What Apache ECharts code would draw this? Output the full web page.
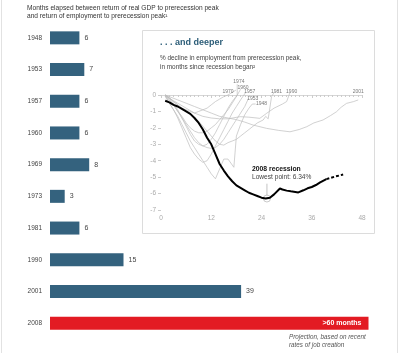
<!DOCTYPE html>
<html>
<head>
<meta charset="utf-8">
<script src="https://cdn.jsdelivr.net/npm/echarts@6/dist/echarts.min.js"></script>
<style>
  html, body { margin: 0; padding: 0; background: #fff; }
  #main { width: 400px; height: 353px; }
</style>
</head>
<body>
<div id="main"></div>
<script>
// 左侧柱状图数据
var years = ['1948', '1953', '1957', '1960', '1969', '1973', '1981', '1990', '2001', '2008'];
var months = [6, 7, 6, 6, 8, 3, 6, 15, 39, 65];
var valueLabels = ['6', '7', '6', '6', '8', '3', '6', '15', '39', '>60 months'];

// 右上小图：2008 衰退（月份, %）
var rec2008 = [[1,-0.35],[2,-0.45],[3,-0.6],[4,-0.7],[5,-0.85],[6,-1.0],[7,-1.15],[8,-1.4],[9,-1.7],[10,-2.1],
  [11,-2.6],[12,-3.0],[13,-3.6],[14,-4.2],[15,-4.6],[16,-4.95],[17,-5.25],[18,-5.5],[19,-5.65],[20,-5.8],
  [21,-5.95],[22,-6.05],[23,-6.15],[24,-6.25],[25,-6.3],[26,-6.25],[27,-6.05],[28.4,-5.69],[29,-5.75],[30,-5.82],
  [31,-5.86],[32.8,-5.93],[34,-5.8],[35,-5.68],[36,-5.6],[37,-5.48],[38,-5.32],[39.5,-5.12]];
var projection2008 = [[39.5,-5.12],[41.5,-4.97],[43.5,-4.84]];
var lowestPoint = [[25.3,-6.3]];
var lowestLeader = [[25.3,-6.12],[25.3,-5.4]];

// 历次衰退
var rec1948 = [[1,0],[2,-0.5],[3,-0.9],[4,-1.3],[5,-1.8],[6,-2.3],[7,-2.8],[8,-3.2],[9,-3.6],[10,-4.0],[11,-4.4],
  [12,-4.8],[13,-5.1],[14,-4.5],[15,-3.9],[16,-3.9],[17.4,-4.4],[18,-2.5],[19,-1.8],[20,-1.2],[21,-0.8],[21.8,-0.55],[22.6,-0.55]];
var rec1953 = [[1,-0.05],[2,-0.3],[3,-0.6],[4,-1.0],[5,-1.4],[6,-1.8],[7,-2.2],[8,-2.6],[9,-2.9],[10,-3.1],[11,-3.2],
  [12,-3.25],[13,-3.2],[14,-3.0],[15,-2.7],[16,-2.3],[17,-1.9],[18,-1.5],[19,-1.1],[20,-0.7],[20.9,-0.2]];
var rec1957 = [[1,-0.1],[2,-0.5],[3,-0.9],[4,-1.4],[5,-2.0],[6,-2.6],[7,-3.2],[8,-3.6],[9,-3.9],[10,-4.1],[11,-4.0],
  [12,-3.6],[13,-3.1],[14,-2.6],[15,-2.1],[16,-1.6],[17,-1.1],[18,-0.7],[19,-0.3],[20.2,0.15]];
var rec1960 = [[1,0],[2,-0.3],[3,-0.6],[4,-1.0],[5,-1.3],[6,-1.7],[7,-2.0],[8,-2.2],[9,-2.3],[10,-2.3],[11,-2.2],
  [12,-2.0],[13,-1.8],[14,-1.5],[15,-1.2],[16,-0.9],[17,-0.5],[18,-0.1],[19,0.35]];
var rec1970 = [[1,0],[2,-0.15],[3,-0.4],[4,-0.6],[5,-0.8],[6,-0.9],[7,-1.0],[8,-1.1],[9,-1.0],[10,-0.9],[11,-0.8],
  [12,-0.6],[13,-0.4],[14,-0.25],[15,-0.1],[16,0.0],[17.9,0.3]];
var rec1974 = [[1,0],[2,-0.2],[3,-0.5],[4,-0.9],[5,-1.4],[6,-1.9],[7,-2.4],[8,-2.8],[9,-3.0],[10,-3.1],[11,-3.0],
  [12,-2.7],[13,-2.3],[14,-1.8],[15,-1.3],[16,-0.8],[17,-0.4],[18.2,0],[18.2,0.65]];
var rec1981 = [[1,0],[2,-0.2],[3,-0.4],[4,-0.6],[5,-0.8],[6,-1.0],[7,-1.2],[8,-1.4],[9,-1.6],[10,-1.9],[11,-2.2],
  [12,-2.5],[13,-2.8],[14,-3.0],[15,-3.05],[16,-2.9],[17,-2.8],[18,-2.7],[19,-2.5],[20,-2.3],[21,-2.1],[22,-1.9],
  [23,-1.7],[24.4,-1.52],[25,-1.3],[25.6,-1.45],[26.4,-0.1],[27,0.15]];
var rec1990 = [[1,0],[2,-0.2],[4,-0.5],[6,-0.8],[8,-1.1],[10,-1.3],[12,-1.4],[14,-1.45],[16,-1.45],[18.9,-1.32],
  [21,-1.35],[23.6,-1.42],[25.2,-1.12],[27,-0.8],[29,-0.55],[30,-0.4],[30.8,0.15]];
var rec2001 = [[1,0],[2,-0.1],[4,-0.3],[6,-0.5],[8,-0.7],[10,-0.9],[12,-1.1],[14,-1.3],[16,-1.4],[18,-1.5],[20,-1.65],
  [22,-1.83],[25.2,-2.03],[28,-2.15],[30.8,-2.24],[33,-2.1],[34.8,-1.93],[36.5,-1.7],[38.7,-1.52],[40.5,-1.25],
  [41.9,-1.02],[43,-0.75],[44.3,-0.51],[46,-0.4],[47.1,-0.3]];

// 年份标签位置（月份, %）
var recLabels = [
  ['1974', 18.6, 0.8], ['1960', 19.6, 0.47], ['1970', 16.0, 0.18], ['1957', 21.2, 0.2],
  ['1953', 21.9, -0.2], ['1948', 24.0, -0.55], ['1981', 27.6, 0.2], ['1990', 31.2, 0.2], ['2001', 47.1, 0.2]
];

var grayLines = [rec1948, rec1953, rec1957, rec1960, rec1970, rec1974, rec1981, rec1990, rec2001];

var myChart = echarts.init(document.getElementById('main'));
var FONT = 'Liberation Sans, Arial, sans-serif';

var series = [];

series.push({
    type: 'bar',
    xAxisIndex: 0, yAxisIndex: 0,
    barWidth: 13,
    silent: true,
    data: months.map(function (v, i) {
        var last = i === months.length - 1;
        return {
            value: v,
            itemStyle: { color: last ? '#e31b23' : '#34627e' },
            label: last ? {
                show: true, position: 'insideRight', distance: 7,
                color: '#fff', fontWeight: 'bold', fontSize: 7, formatter: valueLabels[i]
            } : {
                show: true, position: 'right', distance: 5,
                color: '#444', fontSize: 7, formatter: valueLabels[i]
            }
        };
    })
});

grayLines.forEach(function (d) {
    series.push({
        type: 'line', xAxisIndex: 1, yAxisIndex: 1,
        data: d, symbol: 'none', clip: false, silent: true, z: 10,
        lineStyle: { color: '#bdbdbd', width: 0.7 }
    });
});

series.push({
    type: 'line', xAxisIndex: 1, yAxisIndex: 1,
    data: lowestLeader, symbol: 'none', silent: true, z: 10,
    lineStyle: { color: '#aaa', width: 0.7 }
});
series.push({
    type: 'line', xAxisIndex: 1, yAxisIndex: 1,
    data: rec2008, symbol: 'none', clip: false, silent: true, z: 12,
    lineStyle: { color: '#000', width: 2 }
});
series.push({
    type: 'line', xAxisIndex: 1, yAxisIndex: 1,
    data: projection2008, symbol: 'none', clip: false, silent: true, z: 12,
    lineStyle: { color: '#000', width: 2, type: [3, 2] }
});
series.push({
    type: 'scatter', xAxisIndex: 1, yAxisIndex: 1,
    data: lowestPoint, symbol: 'circle', symbolSize: 7, silent: true, z: 11,
    itemStyle: { color: 'rgba(255,255,255,0)', borderColor: '#aaa', borderWidth: 0.8 }
});
series.push({
    type: 'scatter', xAxisIndex: 1, yAxisIndex: 1,
    data: recLabels.map(function (r) { return { name: r[0], value: [r[1], r[2]] }; }),
    symbolSize: 0, clip: false, silent: true, z: 13,
    label: { show: true, position: 'inside', formatter: '{b}', fontSize: 5, color: '#555', fontFamily: FONT }
});

var option = {
    animation: false,
    textStyle: { fontFamily: FONT },
    grid: [
        { left: 50, top: 22, width: 343, height: 317 },
        { left: 161, top: 95, width: 201, height: 115 }
    ],
    xAxis: [
        { gridIndex: 0, type: 'value', min: 0, max: 70, show: false },
        {
            gridIndex: 1, type: 'value', min: 0, max: 48, interval: 12, z: 10,
            axisLine: { show: true, lineStyle: { color: '#ccc', width: 0.8 } },
            axisTick: { show: true, length: 3, lineStyle: { color: '#ccc' } },
            minorTick: { show: true, splitNumber: 12, length: 2, lineStyle: { color: '#ccc' } },
            splitLine: { show: false },
            axisLabel: { color: '#aaa', fontSize: 6.5, margin: 5 }
        }
    ],
    yAxis: [
        {
            gridIndex: 0, type: 'category', data: years, inverse: true,
            axisLine: { show: false }, axisTick: { show: false },
            axisLabel: { color: '#444', fontSize: 6.5, margin: 8 }
        },
        {
            gridIndex: 1, type: 'value', min: -7, max: 0, interval: 1, z: 10,
            axisLine: { show: false },
            axisTick: { show: true, length: 3, lineStyle: { color: '#ccc' } },
            splitLine: { show: false },
            axisLabel: { color: '#aaa', fontSize: 6.5, margin: 5 }
        }
    ],
    graphic: [
        { type: 'line', shape: { x1: 1.5, y1: 0, x2: 1.5, y2: 353 }, style: { stroke: '#e2e2e2', lineWidth: 1 }, silent: true },
        { type: 'line', shape: { x1: 397.5, y1: 0, x2: 397.5, y2: 353 }, style: { stroke: '#e2e2e2', lineWidth: 1 }, silent: true },
        { type: 'rect', z: 3, shape: { x: 142.5, y: 30.5, width: 232, height: 203 }, style: { fill: '#fff', stroke: '#dcdcdc', lineWidth: 1 }, silent: true },
        { type: 'text', left: 27, top: 5, z: 20, style: { text: 'Months elapsed between return of real GDP to prerecession peak', fill: '#333', fontSize: 6.6, fontFamily: FONT } },
        { type: 'text', left: 27, top: 13, z: 20, style: { text: 'and return of employment to prerecession peak\u00b9', fill: '#333', fontSize: 6.6, fontFamily: FONT } },
        { type: 'text', left: 160, top: 38, z: 20, style: { text: '. . . and deeper', fill: '#2c5d78', fontSize: 9, fontWeight: 'bold', fontFamily: FONT } },
        { type: 'text', left: 160, top: 55, z: 20, style: { text: '% decline in employment from prerecession peak,', fill: '#444', fontSize: 6.4, fontFamily: FONT } },
        { type: 'text', left: 160, top: 64, z: 20, style: { text: 'in months since recession began\u00b2', fill: '#444', fontSize: 6.4, fontFamily: FONT } },
        { type: 'text', left: 252, top: 166, z: 20, style: { text: '2008 recession', fill: '#111', fontSize: 6.8, fontWeight: 'bold', fontFamily: FONT } },
        { type: 'text', left: 252, top: 174, z: 20, style: { text: 'Lowest point: 6.34%', fill: '#444', fontSize: 6.6, fontFamily: FONT } },
        { type: 'text', left: 289, top: 334, z: 20, style: { text: 'Projection, based on recent', fill: '#555', fontSize: 6.3, fontStyle: 'italic', fontFamily: FONT } },
        { type: 'text', left: 289, top: 342, z: 20, style: { text: 'rates of job creation', fill: '#555', fontSize: 6.3, fontStyle: 'italic', fontFamily: FONT } }
    ],
    series: series
};

myChart.setOption(option);
</script>
</body>
</html>
